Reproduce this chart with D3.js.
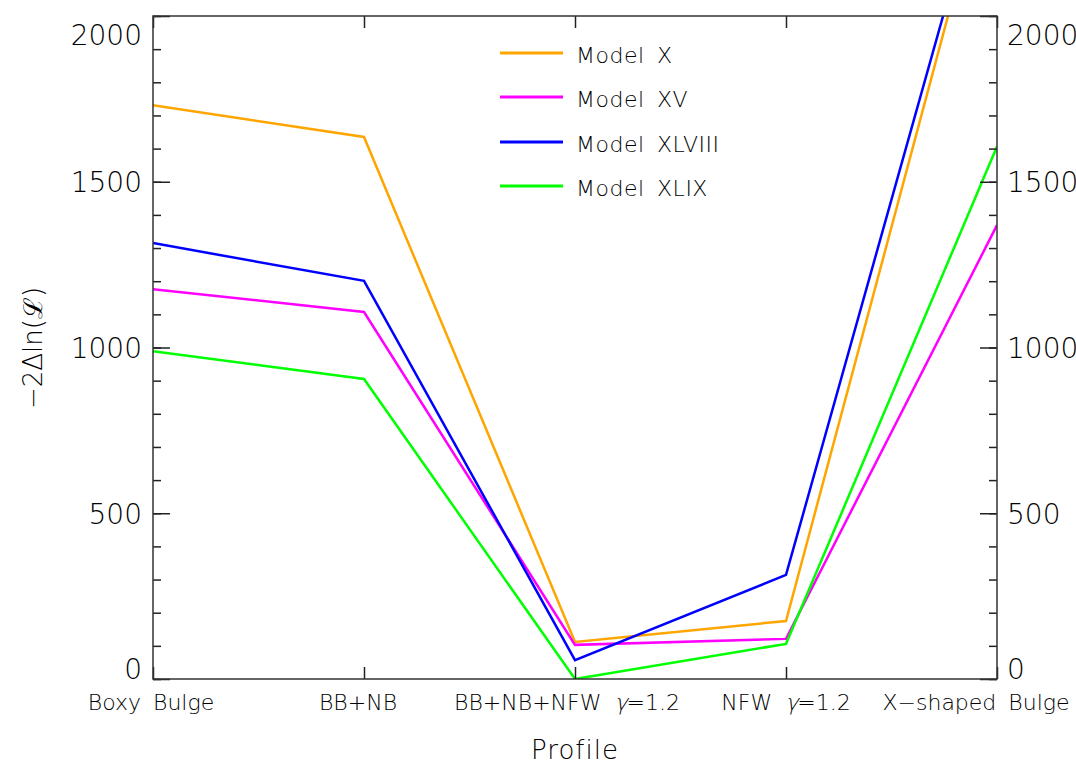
<!DOCTYPE html>
<html>
<head>
<meta charset="utf-8">
<script src="https://cdn.jsdelivr.net/npm/d3@7"></script>
<style>
  html, body { margin: 0; padding: 0; background: #fff; }
  svg text { font-family: "DejaVu Sans", sans-serif; fill: #000; font-weight: 200; }
</style>
</head>
<body>
<svg id="chart" width="1076" height="762"></svg>
<script>
const categories = ["Boxy Bulge", "BB+NB", "BB+NB+NFW γ=1.2", "NFW γ=1.2", "X−shaped Bulge"];
const modelX      = [1731, 1635, 112, 175, 2552];
const modelXV     = [1176, 1107, 103, 121, 1369];
const modelXLVIII = [1315, 1201, 57, 314, 2579];
const modelXLIX   = [989, 905, 0, 106, 1606];
const seriesNames = ["Model X", "Model XV", "Model XLVIII", "Model XLIX"];
const seriesColors = ["#FFA500", "#FF00FF", "#0000FF", "#00FF00"];
const majorTicks = [0, 500, 1000, 1500, 2000];
const minorTicks = d3.range(0, 2001, 100);

const series = [modelX, modelXV, modelXLVIII, modelXLIX];

const svg = d3.select("#chart");
const L = 153, R = 997, T = 16, B = 679;

const x = d3.scalePoint().domain(categories).range([L, R]).padding(0);
const y = d3.scaleLinear().domain([0, 2000]).range([B, T]);

// clip
svg.append("defs").append("clipPath").attr("id", "clip")
  .append("rect").attr("x", L).attr("y", T).attr("width", R - L).attr("height", B - T);

// lines
const line = d3.line().x((d, i) => x(categories[i])).y(d => y(d));
const lg = svg.append("g").attr("clip-path", "url(#clip)");
series.forEach((s, i) => {
  lg.append("path").datum(s).attr("d", line)
    .attr("fill", "none").attr("stroke", seriesColors[i])
    .attr("stroke-width", 2.5).attr("stroke-linejoin", "miter");
});

function styleAxis(g) {
  g.select(".domain").remove();
  g.selectAll(".tick line").attr("stroke", "#222").attr("stroke-width", 1.5);
}

// left axis
const leftMinor = svg.append("g").attr("transform", `translate(${L},0)`)
  .call(d3.axisLeft(y).tickValues(minorTicks).tickSizeInner(-8).tickSizeOuter(0).tickFormat(""));
styleAxis(leftMinor);
const leftMajor = svg.append("g").attr("transform", `translate(${L},0)`)
  .call(d3.axisLeft(y).tickValues(majorTicks).tickSizeInner(-17).tickSizeOuter(0).tickPadding(11).tickFormat(d3.format("d")));
styleAxis(leftMajor);
leftMajor.selectAll(".tick text").attr("font-size", 28).attr("font-family", "DejaVu Sans").attr("fill", "#000");

// right axis
const rightMinor = svg.append("g").attr("transform", `translate(${R},0)`)
  .call(d3.axisRight(y).tickValues(minorTicks).tickSizeInner(-8).tickSizeOuter(0).tickFormat(""));
styleAxis(rightMinor);
const rightMajor = svg.append("g").attr("transform", `translate(${R},0)`)
  .call(d3.axisRight(y).tickValues(majorTicks).tickSizeInner(-17).tickSizeOuter(0).tickPadding(10).tickFormat(d3.format("d")));
styleAxis(rightMajor);
rightMajor.selectAll(".tick text").attr("font-size", 28).attr("font-family", "DejaVu Sans").attr("fill", "#000");

// clamp end labels inside the axis range
[leftMajor, rightMajor].forEach(g => {
  g.selectAll(".tick text").attr("dy", d => d === 2000 ? "1.02em" : d === 0 ? "-0.02em" : "0.36em");
});

// bottom axis
const bottomAxisG = svg.append("g").attr("transform", `translate(0,${B})`)
  .call(d3.axisBottom(x).tickSizeInner(-12).tickSizeOuter(0).tickPadding(0).tickFormat(""));
styleAxis(bottomAxisG);
// top axis
const topAxisG = svg.append("g").attr("transform", `translate(0,${T})`)
  .call(d3.axisTop(x).tickSizeInner(-12).tickSizeOuter(0).tickFormat(""));
styleAxis(topAxisG);

// frame
svg.append("rect").attr("x", L).attr("y", T).attr("width", R - L).attr("height", B - T)
  .attr("fill", "none").attr("stroke", "#333").attr("stroke-width", 1.5);

// x labels (γ drawn as a thin slanted glyph)
const labelOffsets = [-2, -6, -8, 0, -21];
categories.forEach((c, i) => {
  const t = svg.append("text").attr("x", x(c) + labelOffsets[i]).attr("y", 710)
    .attr("text-anchor", "middle").attr("font-size", 22).style("word-spacing", "5px");
  const gi = c.indexOf("γ");
  if (gi >= 0) {
    t.append("tspan").text(c.slice(0, gi));
    t.append("tspan").style("fill", "transparent").text("γ");
    t.append("tspan").text(c.slice(gi + 1));
    const node = t.node();
    let pos;
    try { pos = node.getStartPositionOfChar(gi); } catch (e) { pos = null; }
    if (pos) {
      svg.append("text").attr("font-size", 22)
        .attr("transform", `translate(${pos.x + 1},${pos.y}) skewX(-14)`)
        .text("γ");
    }
  } else {
    t.text(c);
  }
});

// axis titles
svg.append("text").attr("x", 575).attr("y", 759).attr("text-anchor", "middle")
  .attr("font-size", 26).style("letter-spacing", "1px").text("Profile");
svg.append("text").attr("transform", "translate(42,348) rotate(-90)")
  .attr("text-anchor", "middle").attr("font-size", 26).text("−2Δln(ℒ)");

// legend
const legY = [53, 97, 142, 186];
seriesNames.forEach((n, i) => {
  svg.append("line").attr("x1", 500).attr("x2", 563).attr("y1", legY[i]).attr("y2", legY[i])
    .attr("stroke", seriesColors[i]).attr("stroke-width", 3);
  svg.append("text").attr("x", 576).attr("y", legY[i] + 10).attr("font-size", 22)
    .style("word-spacing", "5px").style("letter-spacing", "0.5px").text(n);
});
</script>
</body>
</html>
